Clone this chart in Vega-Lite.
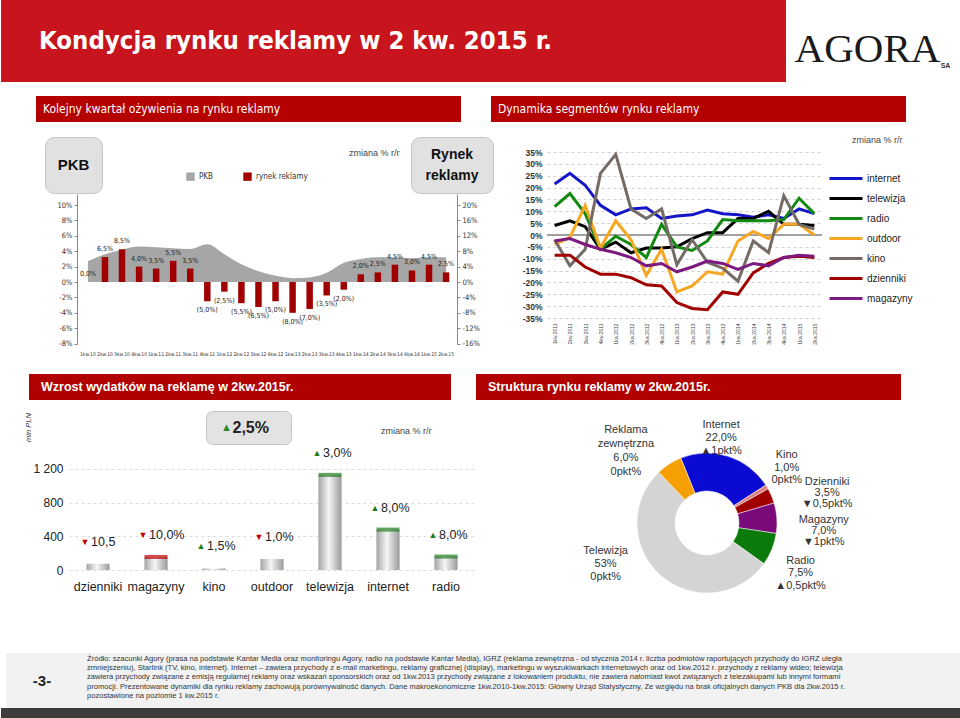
{
 "$schema": "https://vega.github.io/schema/vega-lite/v6.json",
 "padding": 0,
 "background": "white",
 "spacing": 0,
 "resolve": {"scale": {"color": "independent"}, "legend": {"color": "independent"}},
 "config": {"view": {"stroke": null}, "font": "Liberation Sans", "concat": {"spacing": 0}, "axis": {"labelOverlap": false}},
 "datasets": {
  "pkb": [
   {"q": "1kw.10", "pkb": 2.7, "rynek": 0.0, "lab": "0,0%"},
   {"q": "2kw.10", "pkb": 3.6, "rynek": 6.5, "lab": "6,5%"},
   {"q": "3kw.10", "pkb": 4.2, "rynek": 8.5, "lab": "8,5%"},
   {"q": "4kw.10", "pkb": 4.6, "rynek": 4.0, "lab": "4,0%"},
   {"q": "1kw.11", "pkb": 4.5, "rynek": 3.5, "lab": "3,5%"},
   {"q": "2kw.11", "pkb": 4.4, "rynek": 5.5, "lab": "5,5%"},
   {"q": "3kw.11", "pkb": 4.3, "rynek": 3.5, "lab": "3,5%"},
   {"q": "4kw.11", "pkb": 4.9, "rynek": -5.0, "lab": "(5,0%)"},
   {"q": "1kw.12", "pkb": 3.6, "rynek": -2.5, "lab": "(2,5%)"},
   {"q": "2kw.12", "pkb": 2.3, "rynek": -5.5, "lab": "(5,5%)"},
   {"q": "3kw.12", "pkb": 1.4, "rynek": -6.5, "lab": "(6,5%)"},
   {"q": "4kw.12", "pkb": 0.8, "rynek": -5.0, "lab": "(5,0%)"},
   {"q": "1kw.13", "pkb": 0.5, "rynek": -8.0, "lab": "(8,0%)"},
   {"q": "2kw.13", "pkb": 0.6, "rynek": -7.0, "lab": "(7,0%)"},
   {"q": "3kw.13", "pkb": 1.2, "rynek": -3.5, "lab": "(3,5%)"},
   {"q": "4kw.13", "pkb": 2.5, "rynek": -2.0, "lab": "(2,0%)"},
   {"q": "1kw.14", "pkb": 3.0, "rynek": 2.0, "lab": "2,0%"},
   {"q": "2kw.14", "pkb": 3.2, "rynek": 2.5, "lab": "2,5%"},
   {"q": "3kw.14", "pkb": 3.2, "rynek": 4.5, "lab": "4,5%"},
   {"q": "4kw.14", "pkb": 3.1, "rynek": 3.0, "lab": "3,0%"},
   {"q": "1kw.15", "pkb": 3.2, "rynek": 4.5, "lab": "4,5%"},
   {"q": "2kw.15", "pkb": 3.2, "rynek": 2.5, "lab": "2,5%"}
  ],
  "dyn": [
   {"q": "1kw.2011", "internet": 21.5, "telewizja": 4, "radio": 12, "outdoor": -4, "kino": -2, "dzienniki": -8.5, "magazyny": -2.5},
   {"q": "2kw.2011", "internet": 26, "telewizja": 6, "radio": 17.5, "outdoor": -1, "kino": -13, "dzienniki": -8.5, "magazyny": -1.5},
   {"q": "3kw.2011", "internet": 21, "telewizja": 3.5, "radio": 9, "outdoor": 12.5, "kino": -6, "dzienniki": -13.5, "magazyny": -4},
   {"q": "4kw.2011", "internet": 12.5, "telewizja": -6, "radio": -6, "outdoor": -5.5, "kino": 26, "dzienniki": -16.5, "magazyny": -6},
   {"q": "1kw.2012", "internet": 8.5, "telewizja": -3, "radio": -0.5, "outdoor": 6, "kino": 34, "dzienniki": -16.5, "magazyny": -7.5},
   {"q": "2kw.2012", "internet": 11, "telewizja": -7.5, "radio": -4, "outdoor": -2, "kino": 11, "dzienniki": -18, "magazyny": -9.5},
   {"q": "3kw.2012", "internet": 11.5, "telewizja": -5.5, "radio": -9.5, "outdoor": -17, "kino": 7, "dzienniki": -21, "magazyny": -13},
   {"q": "4kw.2012", "internet": 7, "telewizja": -5.5, "radio": 4.5, "outdoor": -6, "kino": 11, "dzienniki": -21.5, "magazyny": -12},
   {"q": "1kw.2013", "internet": 8, "telewizja": -5, "radio": -5, "outdoor": -24, "kino": -12.5, "dzienniki": -28.5, "magazyny": -15.5},
   {"q": "2kw.2013", "internet": 8.5, "telewizja": -1.5, "radio": -6.5, "outdoor": -21.5, "kino": -2, "dzienniki": -31, "magazyny": -13.5},
   {"q": "3kw.2013", "internet": 10.5, "telewizja": 1, "radio": -2.5, "outdoor": -15.5, "kino": -11.5, "dzienniki": -31.5, "magazyny": -11},
   {"q": "4kw.2013", "internet": 9, "telewizja": 1, "radio": 6.5, "outdoor": -16.5, "kino": -14, "dzienniki": -24, "magazyny": -12},
   {"q": "1kw.2014", "internet": 8.5, "telewizja": 7, "radio": 6, "outdoor": -2.5, "kino": -19.5, "dzienniki": -25, "magazyny": -14.5},
   {"q": "2kw.2014", "internet": 7.5, "telewizja": 7, "radio": 6, "outdoor": 1.5, "kino": -2.5, "dzienniki": -16, "magazyny": -12},
   {"q": "3kw.2014", "internet": 8.5, "telewizja": 10, "radio": 6, "outdoor": -1.5, "kino": -7.5, "dzienniki": -12, "magazyny": -13},
   {"q": "4kw.2014", "internet": 7, "telewizja": 4.5, "radio": 6.5, "outdoor": 4.5, "kino": 16.5, "dzienniki": -9.5, "magazyny": -9.5},
   {"q": "1kw.2015", "internet": 11, "telewizja": 4.5, "radio": 15.5, "outdoor": 4.5, "kino": 4.5, "dzienniki": -9, "magazyny": -8.5},
   {"q": "2kw.2015", "internet": 9, "telewizja": 4, "radio": 9, "outdoor": 0, "kino": 2.5, "dzienniki": -9.5, "magazyny": -9}
  ],
  "wyd": [
   {"kat": "dzienniki", "v": 75, "zm": "10,5", "dir": "down"},
   {"kat": "magazyny", "v": 155, "zm": "10,0%", "dir": "down", "cap": "down"},
   {"kat": "kino", "v": 18, "zm": "1,5%", "dir": "up"},
   {"kat": "outdoor", "v": 130, "zm": "1,0%", "dir": "down"},
   {"kat": "telewizja", "v": 1130, "zm": "3,0%", "dir": "up", "cap": "up"},
   {"kat": "internet", "v": 480, "zm": "8,0%", "dir": "up", "cap": "up"},
   {"kat": "radio", "v": 160, "zm": "8,0%", "dir": "up", "cap": "up"}
  ],
  "struktura": [
   {"seg": "Internet", "share": 22, "k": 1, "lab": "Internet\n22,0%\n▲1pkt%"},
   {"seg": "Kino", "share": 1, "k": 2, "lab": "Kino\n1,0%\n0pkt%"},
   {"seg": "Dzienniki", "share": 3.5, "k": 3, "lab": "Dzienniki\n3,5%\n▼0,5pkt%"},
   {"seg": "Magazyny", "share": 7, "k": 4, "lab": "Magazyny\n7,0%\n▼1pkt%"},
   {"seg": "Radio", "share": 7.5, "k": 5, "lab": "Radio\n7,5%\n▲0,5pkt%"},
   {"seg": "Telewizja", "share": 53, "k": 6, "lab": "Telewizja\n53%\n0pkt%"},
   {"seg": "Reklama zewnętrzna", "share": 6, "k": 7, "lab": "Reklama\nzewnętrzna\n6,0%\n0pkt%"}
  ]
 },
 "vconcat": [
  {"spacing": 0, "bounds": "flush", "hconcat": [
   {"width": 785, "height": 82, "view": {"fill": "#c8141c"}, "data": {"values": [{"t": "Kondycja rynku reklamy w 2 kw. 2015 r."}]}, "mark": {"type": "text", "align": "left", "baseline": "middle", "dx": 38, "font": "DejaVu Sans Condensed, Liberation Sans, sans-serif", "fontWeight": "bold", "fontSize": 25.5, "color": "white"}, "encoding": {"text": {"field": "t"}, "x": {"datum": 0, "type": "quantitative", "scale": {"domain": [0, 1]}, "axis": null}}},
   {"width": 175, "height": 82, "data": {"values": [{"t": "AGORA", "s": "SA"}]}, "layer": [
     {"mark": {"type": "text", "font": "Liberation Serif", "fontSize": 41, "color": "#1a1a1a", "baseline": "middle", "dx": -6, "dy": 9}, "encoding": {"text": {"field": "t"}}},
     {"mark": {"type": "text", "fontSize": 7, "fontWeight": "bold", "color": "#333333", "baseline": "middle", "dx": 72, "dy": 25}, "encoding": {"text": {"field": "s"}}}
   ]}
  ]},
  {"width": 960, "height": 14, "data": {"values": [{}]}, "mark": {"type": "point", "opacity": 0}},
  {"spacing": 0, "bounds": "flush", "hconcat": [
   {"width": 35, "height": 26, "data": {"values": [{}]}, "mark": {"type": "point", "opacity": 0}},
   {"width": 425, "height": 26, "view": {"fill": "#b50000"}, "data": {"values": [{"t": "Kolejny kwartał ożywienia na rynku reklamy"}]}, "mark": {"type": "text", "align": "left", "baseline": "middle", "dx": 7, "font": "DejaVu Sans Condensed, Liberation Sans, sans-serif", "fontSize": 12, "color": "white"}, "encoding": {"text": {"field": "t"}, "x": {"datum": 0, "type": "quantitative", "scale": {"domain": [0, 1]}, "axis": null}}},
   {"width": 30, "height": 26, "data": {"values": [{}]}, "mark": {"type": "point", "opacity": 0}},
   {"width": 415, "height": 26, "view": {"fill": "#b50000"}, "data": {"values": [{"t": "Dynamika segmentów rynku reklamy"}]}, "mark": {"type": "text", "align": "left", "baseline": "middle", "dx": 7, "font": "DejaVu Sans Condensed, Liberation Sans, sans-serif", "fontSize": 12, "color": "white"}, "encoding": {"text": {"field": "t"}, "x": {"datum": 0, "type": "quantitative", "scale": {"domain": [0, 1]}, "axis": null}}}
  ]},
  {"spacing": 0, "resolve": {"scale": {"color": "independent"}, "legend": {"color": "independent"}}, "hconcat": [
   {"spacing": 0, "resolve": {"scale": {"color": "independent"}, "legend": {"color": "independent"}}, "vconcat": [
    {"width": 492, "height": 14, "data": {"values": [{}]}, "mark": {"type": "point", "opacity": 0}},
    {"spacing": 0, "bounds": "flush", "hconcat": [
     {"width": 44, "height": 56, "data": {"values": [{}]}, "mark": {"type": "point", "opacity": 0}},
     {"width": 57, "height": 56, "view": {"fill": "#e1e1e1", "stroke": "#c4c4c4", "cornerRadius": 9}, "data": {"values": [{"t": "PKB"}]}, "mark": {"type": "text", "fontSize": 15, "fontWeight": "bold", "color": "#111111", "baseline": "middle"}, "encoding": {"text": {"field": "t"}}},
     {"width": 309, "height": 56, "layer": [
       {"data": {"values": [{"s": "PKB"}, {"s": "rynek reklamy"}]}, "mark": {"type": "square", "opacity": 0}, "encoding": {"color": {"field": "s", "type": "nominal", "scale": {"domain": ["PKB", "rynek reklamy"], "range": ["#a6a6a6", "#a00000"]}, "legend": {"orient": "none", "legendX": 185, "legendY": 35, "direction": "horizontal", "title": null, "symbolType": "square", "symbolSize": 70, "symbolOpacity": 1, "symbolStrokeWidth": 0, "labelFont": "DejaVu Sans Condensed, Liberation Sans, sans-serif", "labelFontSize": 8, "labelColor": "#333333", "columnPadding": 30}}}},
       {"data": {"values": [{"t": "zmiana % r/r"}]}, "mark": {"type": "text", "align": "left", "baseline": "middle", "dx": 247, "dy": -12, "fontSize": 9, "color": "#444444"}, "encoding": {"text": {"field": "t"}, "x": {"datum": 0, "type": "quantitative", "scale": {"domain": [0, 1]}, "axis": null}}}
     ]},
     {"width": 82, "height": 56, "view": {"fill": "#e1e1e1", "stroke": "#c4c4c4", "cornerRadius": 9}, "data": {"values": [{"t": "Rynek\nreklamy"}]}, "mark": {"type": "text", "fontSize": 14, "fontWeight": "bold", "color": "#111111", "baseline": "middle", "dy": -10, "lineBreak": "\n", "lineHeight": 21}, "encoding": {"text": {"field": "t"}}}
    ]},
    {"spacing": 0, "bounds": "flush", "hconcat": [
     {"width": 76, "height": 180, "data": {"values": [{}]}, "mark": {"type": "point", "opacity": 0}},
     {"width": 380, "height": 150,
      "data": {"name": "pkb"},
      "encoding": {"x": {"field": "q", "type": "ordinal", "sort": null, "scale": {"paddingInner": 0.62, "paddingOuter": 0.45}, "axis": {"title": null, "labelAngle": 0, "labelFont": "DejaVu Sans Condensed, Liberation Sans, sans-serif", "labelFontSize": 5, "labelColor": "#333333", "ticks": false, "domain": false, "labelPadding": 7}}},
      "layer": [
       {"mark": {"type": "area", "interpolate": "monotone", "color": "#a6a6a6"}, "encoding": {
         "y": {"field": "pkb", "type": "quantitative", "scale": {"domain": [-8.05, 11.43], "nice": false, "zero": false}, "axis": {"orient": "left", "title": null, "values": [-8, -6, -4, -2, 0, 2, 4, 6, 8, 10], "labelExpr": "datum.value + '%'", "labelFont": "DejaVu Sans Condensed, Liberation Sans, sans-serif", "labelFontSize": 7.5, "labelColor": "#333333", "tickSize": 3, "tickColor": "#888888", "domainColor": "#888888", "grid": false}}}},
       {"mark": {"type": "rule", "color": "#333333", "strokeWidth": 1}, "encoding": {"y": {"datum": 0, "type": "quantitative", "scale": {"domain": [-8.05, 11.43], "nice": false, "zero": false}, "axis": null}}},
       {"mark": {"type": "bar", "color": "#a00000"}, "encoding": {
         "y": {"field": "rynek", "type": "quantitative", "scale": {"domain": [-16.1, 22.86], "nice": false}, "axis": {"orient": "right", "title": null, "values": [-16, -12, -8, -4, 0, 4, 8, 12, 16, 20], "labelExpr": "datum.value + '%'", "labelFont": "DejaVu Sans Condensed, Liberation Sans, sans-serif", "labelFontSize": 7.5, "labelColor": "#333333", "tickSize": 3, "tickColor": "#888888", "domainColor": "#888888", "grid": false}}}},
       {"transform": [{"filter": "datum.rynek >= 0"}], "mark": {"type": "text", "baseline": "bottom", "dy": -5, "font": "DejaVu Sans Condensed, Liberation Sans, sans-serif", "fontSize": 7, "color": "#222222"}, "encoding": {
         "y": {"field": "rynek", "type": "quantitative", "scale": {"domain": [-16.1, 22.86], "nice": false}, "axis": null}, "text": {"field": "lab"}}},
       {"transform": [{"filter": "datum.rynek < 0"}], "mark": {"type": "text", "baseline": "top", "dy": 5, "font": "DejaVu Sans Condensed, Liberation Sans, sans-serif", "fontSize": 7, "color": "#222222"}, "encoding": {
         "y": {"field": "rynek", "type": "quantitative", "scale": {"domain": [-16.1, 22.86], "nice": false}, "axis": null}, "text": {"field": "lab"}}}
      ],
      "resolve": {"scale": {"y": "independent"}, "axis": {"y": "independent"}}
     }
    ]}
   ]},
   {"spacing": 0, "resolve": {"scale": {"color": "independent"}, "legend": {"color": "independent"}}, "vconcat": [
    {"spacing": 0, "bounds": "flush", "hconcat": [
     {"width": 358, "height": 25.5, "data": {"values": [{}]}, "mark": {"type": "point", "opacity": 0}},
     {"width": 60, "height": 25.5, "data": {"values": [{"t": "zmiana % r/r"}]}, "mark": {"type": "text", "align": "left", "baseline": "middle", "dy": 5, "fontSize": 9, "color": "#444444"}, "encoding": {"text": {"field": "t"}, "x": {"datum": 0, "type": "quantitative", "scale": {"domain": [0, 1]}, "axis": null}}}
    ]},
    {"spacing": 0, "bounds": "flush", "hconcat": [
     {"width": 53, "height": 220, "data": {"values": [{}]}, "mark": {"type": "point", "opacity": 0}},
     {"width": 275, "height": 166,
      "data": {"name": "dyn"},
      "transform": [{"fold": ["internet", "telewizja", "radio", "outdoor", "kino", "dzienniki", "magazyny"], "as": ["s", "v"]}],
      "layer": [
       {"mark": {"type": "rule", "color": "#a0a0a0", "strokeWidth": 1}, "encoding": {"y": {"datum": 0, "type": "quantitative", "scale": {"domain": [-35, 35], "nice": false}, "axis": {"title": null, "values": [-35, -30, -25, -20, -15, -10, -5, 0, 5, 10, 15, 20, 25, 30, 35], "labelExpr": "datum.value + '%'", "labelOverlap": false, "grid": true, "gridDash": [3, 3], "gridColor": "#d0d0d0", "domain": false, "ticks": false, "labelFontSize": 8.5, "labelFontWeight": "bold", "labelColor": "#333333", "labelPadding": 5}}}},
       {"mark": {"type": "line", "strokeWidth": 3}, "encoding": {
         "x": {"field": "q", "type": "ordinal", "sort": null, "scale": {"type": "point", "padding": 0.5}, "axis": {"title": null, "labelAngle": -90, "labelFontSize": 5, "labelColor": "#444444", "ticks": false, "domain": false, "labelPadding": 5}},
         "y": {"field": "v", "type": "quantitative", "scale": {"domain": [-35, 35], "nice": false}, "axis": {"title": null, "values": [-35, -30, -25, -20, -15, -10, -5, 0, 5, 10, 15, 20, 25, 30, 35], "labelExpr": "datum.value + '%'", "labelOverlap": false, "grid": true, "gridDash": [3, 3], "gridColor": "#d0d0d0", "domain": false, "ticks": false, "labelFontSize": 8.5, "labelFontWeight": "bold", "labelColor": "#333333", "labelPadding": 5}},
         "color": {"field": "s", "type": "nominal", "scale": {"domain": ["internet", "telewizja", "radio", "outdoor", "kino", "dzienniki", "magazyny"], "range": ["#1414c8", "#000000", "#128a12", "#f5a623", "#746b66", "#a00000", "#7d1a80"]}, "legend": {"orient": "none", "legendX": 340, "legendY": 14.5, "title": null, "symbolType": "M-1.6,0H1.6", "symbolSize": 425, "symbolStrokeWidth": 3, "labelFontSize": 10, "labelColor": "#222222", "labelOffset": 9, "rowPadding": 2}}}}
      ]
     }
    ]}
   ]}
  ]},
  {"spacing": 0, "bounds": "flush", "hconcat": [
   {"width": 28, "height": 26, "data": {"values": [{}]}, "mark": {"type": "point", "opacity": 0}},
   {"width": 422, "height": 26, "view": {"fill": "#b00000"}, "data": {"values": [{"t": "Wzrost wydatków na reklamę w 2kw.2015r."}]}, "mark": {"type": "text", "align": "left", "baseline": "middle", "dx": 12, "fontSize": 12.5, "fontWeight": "bold", "color": "white"}, "encoding": {"text": {"field": "t"}, "x": {"datum": 0, "type": "quantitative", "scale": {"domain": [0, 1]}, "axis": null}}},
   {"width": 25, "height": 26, "data": {"values": [{}]}, "mark": {"type": "point", "opacity": 0}},
   {"width": 425, "height": 26, "view": {"fill": "#b00000"}, "data": {"values": [{"t": "Struktura rynku reklamy w 2kw.2015r."}]}, "mark": {"type": "text", "align": "left", "baseline": "middle", "dx": 12, "fontSize": 12.5, "fontWeight": "bold", "color": "white"}, "encoding": {"text": {"field": "t"}, "x": {"datum": 0, "type": "quantitative", "scale": {"domain": [0, 1]}, "axis": null}}}
  ]},
  {"spacing": 0, "resolve": {"scale": {"color": "independent"}, "legend": {"color": "independent"}}, "hconcat": [
   {"spacing": 0, "resolve": {"scale": {"color": "independent"}, "legend": {"color": "independent"}}, "vconcat": [
    {"width": 474, "height": 10, "data": {"values": [{}]}, "mark": {"type": "point", "opacity": 0}},
    {"spacing": 0, "bounds": "flush", "hconcat": [
     {"width": 20, "height": 33, "data": {"values": [{}]}, "mark": {"type": "point", "opacity": 0}},
     {"width": 16, "height": 33, "data": {"values": [{"t": "mln PLN"}]}, "mark": {"type": "text", "angle": 270, "baseline": "middle", "fontSize": 7.5, "fontStyle": "italic", "color": "#333333"}, "encoding": {"text": {"field": "t"}}},
     {"width": 169, "height": 33, "data": {"values": [{}]}, "mark": {"type": "point", "opacity": 0}},
     {"width": 85, "height": 33, "view": {"fill": "#e3e3e3", "stroke": "#c4c4c4", "cornerRadius": 6}, "data": {"values": [{"a": "▲", "t": "2,5%"}]}, "layer": [
       {"mark": {"type": "text", "fontSize": 11, "color": "#2a8a2a", "baseline": "middle", "dx": -22}, "encoding": {"text": {"field": "a"}}},
       {"mark": {"type": "text", "align": "left", "fontSize": 16, "fontWeight": "bold", "color": "#222222", "baseline": "middle", "dx": -16}, "encoding": {"text": {"field": "t"}}}
     ]},
     {"width": 90, "height": 33, "data": {"values": [{}]}, "mark": {"type": "point", "opacity": 0}},
     {"width": 80, "height": 33, "data": {"values": [{"t": "zmiana % r/r"}]}, "mark": {"type": "text", "align": "left", "baseline": "middle", "dy": 3, "fontSize": 9, "color": "#444444"}, "encoding": {"text": {"field": "t"}, "x": {"datum": 0, "type": "quantitative", "scale": {"domain": [0, 1]}, "axis": null}}}
    ]},
    {"spacing": 0, "bounds": "flush", "hconcat": [
     {"width": 68, "height": 200, "data": {"values": [{}]}, "mark": {"type": "point", "opacity": 0}},
     {"width": 406, "height": 125,
      "data": {"name": "wyd"},
      "encoding": {"x": {"field": "kat", "type": "nominal", "sort": null, "scale": {"paddingInner": 0, "paddingOuter": 0}, "axis": {"title": null, "labelAngle": 0, "labelFontSize": 12.5, "labelColor": "#222222", "ticks": false, "domain": false, "labelPadding": 10}}},
      "layer": [
       {"mark": {"type": "bar", "width": {"band": 0.4}, "color": {"gradient": "linear", "x1": 0, "y1": 0, "x2": 1, "y2": 0, "stops": [{"offset": 0, "color": "#a4a4a4"}, {"offset": 0.45, "color": "#f6f6f6"}, {"offset": 1, "color": "#9a9a9a"}]}}, "encoding": {
         "y": {"field": "v", "type": "quantitative", "scale": {"domain": [0, 1485], "nice": false}, "axis": {"title": null, "values": [0, 200, 400, 600, 800, 1000, 1200], "labelExpr": "replace(format(datum.value, ','), ',', ' ')", "labelFontSize": 12, "labelColor": "#222222", "grid": true, "gridDash": [3, 3], "gridColor": "#dddddd", "domain": false, "ticks": false, "labelPadding": 6}}}},
       {"transform": [{"filter": "datum.cap"}], "mark": {"type": "tick", "thickness": 4, "size": 23}, "encoding": {
         "y": {"field": "v", "type": "quantitative"},
         "color": {"field": "cap", "type": "nominal", "scale": {"domain": ["up", "down"], "range": ["#1f7a1f", "#c00000"]}, "legend": null}}},
       {"mark": {"type": "text", "baseline": "middle", "dx": -13, "dy": -22, "fontSize": 9}, "encoding": {
         "y": {"field": "v", "type": "quantitative"},
         "text": {"condition": {"test": "datum.dir === 'up'", "value": "▲"}, "value": "▼"},
         "color": {"field": "dir", "type": "nominal", "scale": {"domain": ["up", "down"], "range": ["#1f7a1f", "#c00000"]}, "legend": null}}},
       {"mark": {"type": "text", "align": "left", "baseline": "middle", "dx": -7, "dy": -22, "fontSize": 12.5, "color": "#222222"}, "encoding": {
         "y": {"field": "v", "type": "quantitative"},
         "text": {"field": "zm"}}}
      ]
     }
    ]}
   ]},
   {"spacing": 0, "bounds": "flush", "hconcat": [
    {"width": 58, "height": 246, "data": {"values": [{}]}, "mark": {"type": "point", "opacity": 0}},
    {"width": 348, "height": 246,
     "data": {"name": "struktura"},
     "encoding": {"theta": {"field": "share", "type": "quantitative", "stack": true, "scale": {"range": [-0.384, 5.8992]}}, "order": {"field": "k"}},
     "layer": [
      {"mark": {"type": "arc", "innerRadius": 32, "outerRadius": 70, "stroke": "white", "strokeWidth": 0.5}, "encoding": {
        "color": {"field": "seg", "type": "nominal", "scale": {"domain": ["Internet", "Kino", "Dzienniki", "Magazyny", "Radio", "Telewizja", "Reklama zewnętrzna"], "range": ["#0a0ad2", "#e08080", "#a00000", "#7a0a7a", "#0a7a0a", "#d4d4d4", "#f5a000"]}, "legend": null}}},
      {"mark": {"type": "text", "radius": 111, "dx": -21, "dy": 0, "baseline": "middle", "lineBreak": "\n", "fontSize": 11, "lineHeight": 14, "color": "#333333"}, "encoding": {"text": {"condition": {"test": "datum.seg === 'Reklama zewnętrzna'", "field": "lab"}, "value": ""}}},
      {"mark": {"type": "text", "radius": 103, "dx": -17, "dy": 0, "baseline": "middle", "lineBreak": "\n", "fontSize": 11, "lineHeight": 13, "color": "#333333"}, "encoding": {"text": {"condition": {"test": "datum.seg === 'Internet'", "field": "lab"}, "value": ""}}},
      {"mark": {"type": "text", "radius": 100, "dx": -6, "dy": -16, "baseline": "middle", "lineBreak": "\n", "fontSize": 11, "lineHeight": 12.5, "color": "#333333"}, "encoding": {"text": {"condition": {"test": "datum.seg === 'Kino'", "field": "lab"}, "value": ""}}},
      {"mark": {"type": "text", "radius": 125, "dx": 5, "dy": 8, "baseline": "middle", "lineBreak": "\n", "fontSize": 11, "lineHeight": 11, "color": "#333333"}, "encoding": {"text": {"condition": {"test": "datum.seg === 'Dzienniki'", "field": "lab"}, "value": ""}}},
      {"mark": {"type": "text", "radius": 117, "dx": 0, "dy": 5.5, "baseline": "middle", "lineBreak": "\n", "fontSize": 11, "lineHeight": 11, "color": "#333333"}, "encoding": {"text": {"condition": {"test": "datum.seg === 'Magazyny'", "field": "lab"}, "value": ""}}},
      {"mark": {"type": "text", "radius": 101, "dx": 0, "dy": 0, "baseline": "middle", "lineBreak": "\n", "fontSize": 11, "lineHeight": 12.5, "color": "#333333"}, "encoding": {"text": {"condition": {"test": "datum.seg === 'Radio'", "field": "lab"}, "value": ""}}},
      {"mark": {"type": "text", "radius": 60, "dx": -62, "dy": -17, "baseline": "middle", "lineBreak": "\n", "fontSize": 11, "lineHeight": 13, "color": "#333333"}, "encoding": {"text": {"condition": {"test": "datum.seg === 'Telewizja'", "field": "lab"}, "value": ""}}},
      {"data": {"values": [{"t": "2kw.2015\n2,1 mld PLN\n▲2,5%"}]}, "mark": {"type": "text", "lineBreak": "\n", "fontWeight": "bold", "fontSize": 13, "lineHeight": 16.5, "baseline": "middle", "dy": -11, "color": "#111111"}, "encoding": {"text": {"field": "t"}}},
      {"data": {"values": [{"t": "zmiana % i pkt% r/r"}]}, "mark": {"type": "text", "fontStyle": "italic", "fontSize": 9, "baseline": "middle", "dx": 159, "dy": -96, "color": "#333333"}, "encoding": {"text": {"field": "t"}}}
     ]
    }
   ]}
  ]},
  {"width": 960, "height": 7, "data": {"values": [{}]}, "mark": {"type": "point", "opacity": 0}},
  {"spacing": 0, "bounds": "flush", "hconcat": [
   {"width": 5, "height": 55, "data": {"values": [{}]}, "mark": {"type": "point", "opacity": 0}},
   {"width": 955, "height": 55, "view": {"fill": "#f2f2f2"},
    "data": {"values": [{"n": "-3-", "t": "Źródło: szacunki Agory (prasa na podstawie Kantar Media oraz monitoringu Agory, radio na podstawie Kantar Media), IGRZ (reklama zewnętrzna - od stycznia 2014 r. liczba podmiotów raportujących przychody do IGRZ uległa\nzmniejszeniu), Starlink (TV, kino, internet). Internet – zawiera przychody z e-mail marketingu, reklamy graficznej (display), marketingu w wyszukiwarkach internetowych oraz od 1kw.2012 r. przychody z reklamy wideo; telewizja\nzawiera przychody związane z emisją regularnej reklamy oraz wskazań sponsorskich oraz od 1kw.2013 przychody związane z lokowaniem produktu, nie zawiera natomiast kwot związanych z telezakupami lub innymi formami\npromocji. Prezentowane dynamiki dla rynku reklamy zachowują porównywalność danych. Dane makroekonomiczne 1kw.2010-1kw.2015: Główny Urząd Statystyczny, Ze względu na brak oficjalnych danych PKB dla 2kw.2015 r.\npozostawione na poziomie 1 kw.2015 r."}]},
    "encoding": {"x": {"datum": 0, "type": "quantitative", "scale": {"domain": [0, 1]}, "axis": null}},
    "layer": [
     {"mark": {"type": "text", "align": "center", "baseline": "middle", "dx": 36, "fontSize": 15, "fontWeight": "bold", "color": "#222222"}, "encoding": {"text": {"field": "n"}}},
     {"mark": {"type": "text", "align": "left", "baseline": "middle", "dx": 81, "dy": -22, "fontSize": 7.6, "lineHeight": 9.4, "lineBreak": "\n", "color": "#333333"}, "encoding": {"text": {"field": "t"}}}
    ]
   }
  ]},
  {"width": 960, "height": 11, "view": {"fill": "#3c3c3c"}, "data": {"values": [{}]}, "mark": {"type": "point", "opacity": 0}}
 ]
}
